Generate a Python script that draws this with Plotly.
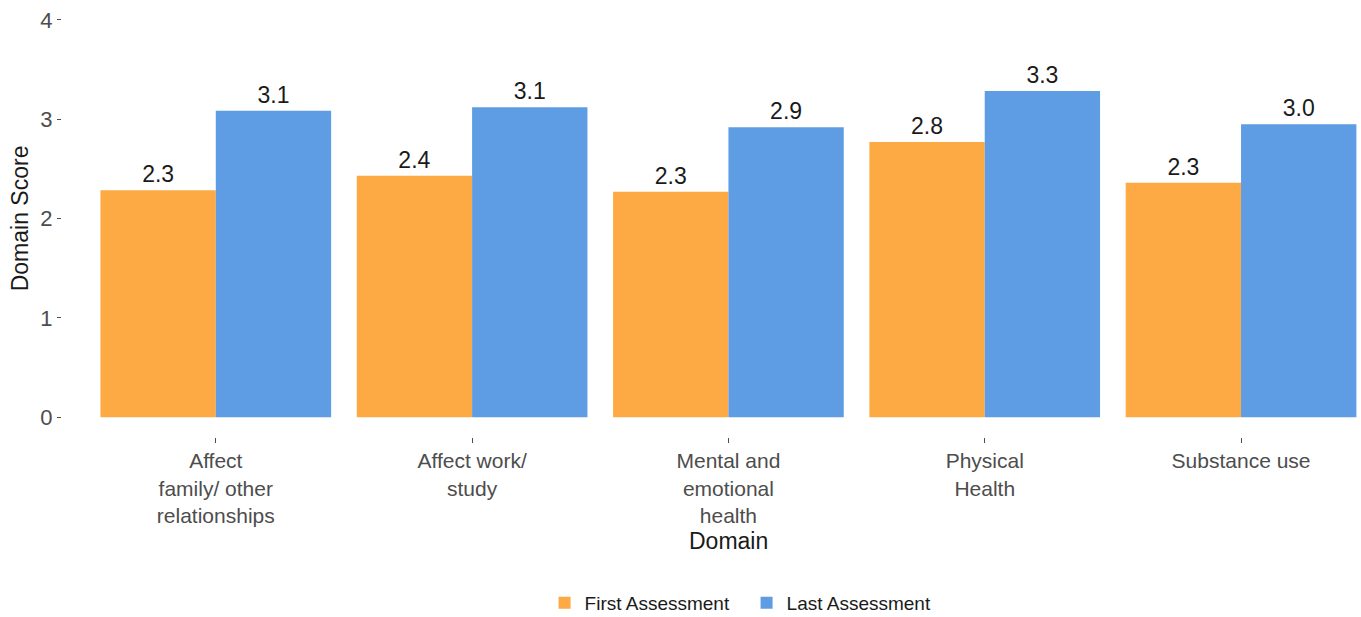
import plotly.graph_objects as go

categories = [
    "Affect<br>family/ other<br>relationships",
    "Affect work/<br>study",
    "Mental and<br>emotional<br>health",
    "Physical<br>Health",
    "Substance use",
]
first_scores = [2.285, 2.43, 2.27, 2.77, 2.36]
last_scores = [3.085, 3.12, 2.92, 3.285, 2.95]
first_labels = ["2.3", "2.4", "2.3", "2.8", "2.3"]
last_labels = ["3.1", "3.1", "2.9", "3.3", "3.0"]
y_ticks = [0, 1, 2, 3, 4]

FONT = "Liberation Sans, Arial, sans-serif"
ORANGE = "#FEAA44"
BLUE = "#5E9DE3"

fig = go.Figure()
fig.add_trace(go.Bar(
    x=categories, y=first_scores, name="First Assessment",
    marker=dict(color=ORANGE, line=dict(width=0)),
    text=first_labels, textposition="outside",
    textfont=dict(size=23, color="#1a1a1a", family=FONT),
    cliponaxis=False,
))
fig.add_trace(go.Bar(
    x=categories, y=last_scores, name="Last Assessment",
    marker=dict(color=BLUE, line=dict(width=0)),
    text=last_labels, textposition="outside",
    textfont=dict(size=23, color="#1a1a1a", family=FONT),
    cliponaxis=False,
))

fig.update_layout(
    width=1361, height=617,
    margin=dict(l=62, r=0, t=0, b=180),
    paper_bgcolor="white", plot_bgcolor="white",
    barmode="group", bargap=0.1, bargroupgap=0,
    font=dict(family=FONT, color="#4D4D4D"),
    showlegend=True,
    legend=dict(
        orientation="h", xref="paper", yref="container",
        x=0.527, xanchor="center", y=0.0227, yanchor="middle",
        entrywidth=157,
        font=dict(size=19, color="#1a1a1a", family=FONT),
        traceorder="normal",
    ),
    annotations=[
        dict(
            text="Domain", xref="x", yref="paper", x=2, y=-0.238,
            xanchor="center", yanchor="middle", showarrow=False,
            font=dict(size=23, color="#1a1a1a", family=FONT),
        ),
        dict(
            text="Domain Score", xref="paper", yref="paper", x=-0.0325, y=0.5,
            xanchor="center", yanchor="middle", showarrow=False, textangle=-90,
            font=dict(size=23, color="#1a1a1a", family=FONT),
        ),
    ],
)
fig.update_xaxes(
    range=[-0.6, 4.468], showgrid=False, zeroline=False, showline=False,
    automargin=False,
    ticks="outside", ticklen=5, tickcolor="#4D4D4D", tickwidth=1,
    tickfont=dict(size=21, color="#4D4D4D", family=FONT), tickangle=0,
)
fig.update_yaxes(
    range=[-0.2, 4.2], tickvals=y_ticks, showgrid=False, zeroline=False, showline=False,
    automargin=False,
    ticks="outside", ticklen=4, tickcolor="#4D4D4D", tickwidth=1,
    tickfont=dict(size=22, color="#4D4D4D", family=FONT),
)

fig.write_html(
    "out.html",
    config={"displayModeBar": False},
    post_script="document.body.style.margin='0';document.body.style.overflow='hidden';",
)
